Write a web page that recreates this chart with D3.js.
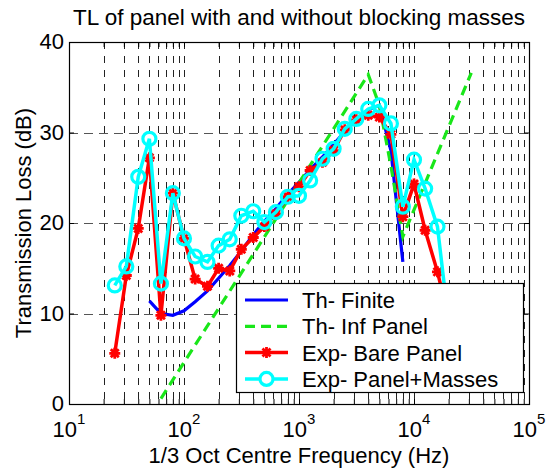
<!DOCTYPE html>
<html>
<head>
<meta charset="utf-8">
<script src="https://cdn.jsdelivr.net/npm/d3@7"></script>
<style>
  html, body { margin: 0; padding: 0; background: #fff; }
  #chart { width: 547px; height: 472px; }
  text { font-family: "Liberation Sans", Arial, Helvetica, sans-serif; fill: #000; }
</style>
</head>
<body>
<div id="chart"></div>
<script>
// 1/3 octave centre frequencies (Hz) for the measured curves
const bands = [25, 31.5, 40, 50, 63, 80, 100, 125, 160, 200, 250, 315, 400, 500,
  630, 800, 1000, 1250, 1600, 2000, 2500, 3150, 4000, 5000, 6300, 8000, 10000,
  12500, 16000, 20000];

// Exp- Bare Panel (dB)
const bareTL = [5.6, 14.2, 19.4, 27.2, 9.8, 23.3, 18.3, 13.8, 13.0, 15.0, 14.7,
  17.1, 18.4, 19.6, 21.0, 22.9, 24.0, 25.8, 26.7, 28.0, 30.3, 31.4, 31.9, 31.7,
  29.8, 20.7, 24.3, 19.2, 14.6, 9.5];

// Exp- Panel+Masses (dB)
const massesTL = [13.1, 15.2, 25.1, 29.3, 13.3, 23.3, 18.3, 16.3, 15.7, 17.5,
  18.2, 20.8, 21.3, 20.1, 21.2, 22.9, 23.0, 24.7, 27.1, 28.2, 30.4, 31.5, 32.6,
  33.0, 31.0, 21.8, 27.0, 23.8, 19.6, 9.0];

// Th- Finite
const finiteFreq = [50, 63, 80, 100, 125, 160, 200, 250, 315, 400, 500, 630, 800,
  1000, 1250, 1600, 2000, 2500, 3150, 4000, 5000, 6300, 8000];
const finiteTL = [11.4, 10.0, 9.8, 10.3, 11.3, 12.5, 13.9, 15.3, 16.9, 18.7, 20.2,
  21.6, 23.2, 24.5, 25.9, 27.3, 28.7, 30.1, 31.4, 32.5, 33.0, 28.0, 15.7];

// Th- Inf Panel
const infFreq = [63, 4000, 5000, 6300, 8000, 31500];
const infTL = [0.6, 36.4, 33.0, 26.3, 18.5, 36.6];

const xExponents = [1, 2, 3, 4, 5];
const yTicks = [0, 10, 20, 30, 40];
const legendLabels = ["Th- Finite", "Th- Inf Panel", "Exp- Bare Panel", "Exp- Panel+Masses"];

function render() {
  const container = d3.select("#chart");
  const width = 547, height = 472;
  const margin = { top: 42, right: 18, bottom: 68, left: 69 };
  const innerW = width - margin.left - margin.right;
  const innerH = height - margin.top - margin.bottom;

  const svg = container.append("svg")
    .attr("width", width)
    .attr("height", height);

  svg.append("rect").attr("width", width).attr("height", height).attr("fill", "#fff");

  const g = svg.append("g")
    .attr("transform", `translate(${margin.left},${margin.top})`);

  const x = d3.scaleLog().domain([10, 1e5]).range([0, innerW]);
  const y = d3.scaleLinear().domain([0, 40]).range([innerH, 0]);

  // every decade sub-tick (2..9) plus majors
  const allTicks = [];
  for (let e = 1; e < 5; e++) {
    for (let m = 1; m < 10; m++) allTicks.push(m * Math.pow(10, e));
  }
  allTicks.push(1e5);
  const gridX = allTicks.filter(t => t > 10 && t < 1e5);

  // grid
  g.append("g").selectAll("line")
    .data(gridX)
    .enter().append("line")
    .attr("x1", d => Math.round(x(d)) + 0.5)
    .attr("x2", d => Math.round(x(d)) + 0.5)
    .attr("y1", 0).attr("y2", innerH)
    .attr("stroke", "#222")
    .attr("stroke-width", 1)
    .attr("stroke-dasharray", "7,7");

  g.append("g").selectAll("line")
    .data(yTicks.filter(t => t > 0 && t < 40))
    .enter().append("line")
    .attr("x1", 0).attr("x2", innerW)
    .attr("y1", d => Math.round(y(d)) + 0.5)
    .attr("y2", d => Math.round(y(d)) + 0.5)
    .attr("stroke", "#555")
    .attr("stroke-width", 1.2)
    .attr("stroke-dasharray", "9,6");

  // axes, ticks pointing inward
  const noLabel = () => "";
  g.append("g").attr("transform", `translate(0,${innerH})`)
    .call(d3.axisBottom(x).tickValues(allTicks).tickSizeInner(-5).tickSizeOuter(0).tickFormat(noLabel));
  g.append("g")
    .call(d3.axisTop(x).tickValues(allTicks).tickSizeInner(-5).tickSizeOuter(0).tickFormat(noLabel));
  g.append("g")
    .call(d3.axisLeft(y).tickValues(yTicks).tickSizeInner(-5).tickSizeOuter(0).tickFormat(noLabel));
  g.append("g").attr("transform", `translate(${innerW},0)`)
    .call(d3.axisRight(y).tickValues(yTicks).tickSizeInner(-5).tickSizeOuter(0).tickFormat(noLabel));
  g.selectAll(".domain").remove();
  g.selectAll(".tick line").attr("stroke", "#000");

  g.append("rect")
    .attr("x", 0.5).attr("y", 0.5)
    .attr("width", innerW).attr("height", innerH)
    .attr("fill", "none").attr("stroke", "#000").attr("stroke-width", 1.2);

  // tick labels
  g.selectAll(".ylab")
    .data(yTicks)
    .enter().append("text")
    .attr("x", -5)
    .attr("y", d => y(d) + 7)
    .attr("text-anchor", "end")
    .attr("font-size", "22px")
    .text(d => d);

  const xl = g.selectAll(".xlab")
    .data(xExponents)
    .enter().append("text")
    .attr("x", d => x(Math.pow(10, d)))
    .attr("y", innerH + 33)
    .attr("text-anchor", "middle")
    .attr("font-size", "22px");
  xl.append("tspan").text("10");
  xl.append("tspan").attr("font-size", "15px").attr("dy", -13).text(d => d);

  // series
  const line = d3.line().x(d => x(d[0])).y(d => y(d[1]));

  const finite = finiteFreq.map((f, i) => [f, finiteTL[i]]);
  const inf = infFreq.map((f, i) => [f, infTL[i]]);
  const bare = bands.map((f, i) => [f, bareTL[i]]);
  const masses = bands.map((f, i) => [f, massesTL[i]]);

  const plot = g.append("g");

  plot.append("path").datum(finite)
    .attr("d", line).attr("fill", "none")
    .attr("stroke", "#0000ff").attr("stroke-width", 3.2);

  plot.append("path").datum(inf)
    .attr("d", line).attr("fill", "none")
    .attr("stroke", "#19e619").attr("stroke-width", 3.2)
    .attr("stroke-dasharray", "10,6");

  const star = "M-5.5,0H5.5M0,-5.5V5.5M-4,-4L4,4M-4,4L4,-4";

  plot.append("path").datum(bare)
    .attr("d", line).attr("fill", "none")
    .attr("stroke", "#ff0000").attr("stroke-width", 3.5);
  plot.selectAll(".bare")
    .data(bare)
    .enter().append("path")
    .attr("transform", d => `translate(${x(d[0])},${y(d[1])})`)
    .attr("d", star)
    .attr("stroke", "#ff0000").attr("stroke-width", 2.8).attr("fill", "none");

  plot.append("path").datum(masses)
    .attr("d", line).attr("fill", "none")
    .attr("stroke", "#00ffff").attr("stroke-width", 3.5);
  plot.selectAll(".mass")
    .data(masses)
    .enter().append("circle")
    .attr("cx", d => x(d[0])).attr("cy", d => y(d[1]))
    .attr("r", 6.5)
    .attr("fill", "none")
    .attr("stroke", "#00ffff").attr("stroke-width", 3.2);

  // legend
  const lg = g.append("g").attr("transform", `translate(${236 - margin.left},${283 - margin.top})`);
  lg.append("rect")
    .attr("x", 0.5).attr("y", 0.5)
    .attr("width", 287).attr("height", 109)
    .attr("fill", "#fff").attr("stroke", "#000").attr("stroke-width", 1.2);

  const rowY = i => 17 + i * 26.3;
  const sx1 = 9, sx2 = 52, smid = 30.5;

  lg.append("line").attr("x1", sx1).attr("x2", sx2).attr("y1", rowY(0)).attr("y2", rowY(0))
    .attr("stroke", "#0000ff").attr("stroke-width", 3.2);
  lg.append("line").attr("x1", sx1).attr("x2", sx2).attr("y1", rowY(1)).attr("y2", rowY(1))
    .attr("stroke", "#19e619").attr("stroke-width", 3.2).attr("stroke-dasharray", "10,6");
  lg.append("line").attr("x1", sx1).attr("x2", sx2).attr("y1", rowY(2)).attr("y2", rowY(2))
    .attr("stroke", "#ff0000").attr("stroke-width", 3.5);
  lg.append("path").attr("transform", `translate(${smid},${rowY(2)})`).attr("d", star)
    .attr("stroke", "#ff0000").attr("stroke-width", 2.8).attr("fill", "none");
  lg.append("line").attr("x1", sx1).attr("x2", sx2).attr("y1", rowY(3)).attr("y2", rowY(3))
    .attr("stroke", "#00ffff").attr("stroke-width", 3.5);
  lg.append("circle").attr("cx", smid).attr("cy", rowY(3)).attr("r", 6.5)
    .attr("fill", "#fff").attr("stroke", "#00ffff").attr("stroke-width", 3.2);

  lg.selectAll(".ltxt")
    .data(legendLabels)
    .enter().append("text")
    .attr("x", 66)
    .attr("y", (d, i) => rowY(i) + 8)
    .attr("font-size", "22px")
    .text(d => d);

  // titles
  svg.append("text")
    .attr("x", margin.left + innerW / 2)
    .attr("y", 25)
    .attr("text-anchor", "middle")
    .attr("font-size", "22.5px")
    .text("TL of panel with and without blocking masses");

  svg.append("text")
    .attr("x", margin.left + innerW / 2)
    .attr("y", 463)
    .attr("text-anchor", "middle")
    .attr("font-size", "22px")
    .text("1/3 Oct Centre Frequency (Hz)");

  svg.append("text")
    .attr("transform", `translate(31,${margin.top + innerH / 2}) rotate(-90)`)
    .attr("text-anchor", "middle")
    .attr("font-size", "22px")
    .text("Transmission Loss (dB)");
}

render();
</script>
</body>
</html>
